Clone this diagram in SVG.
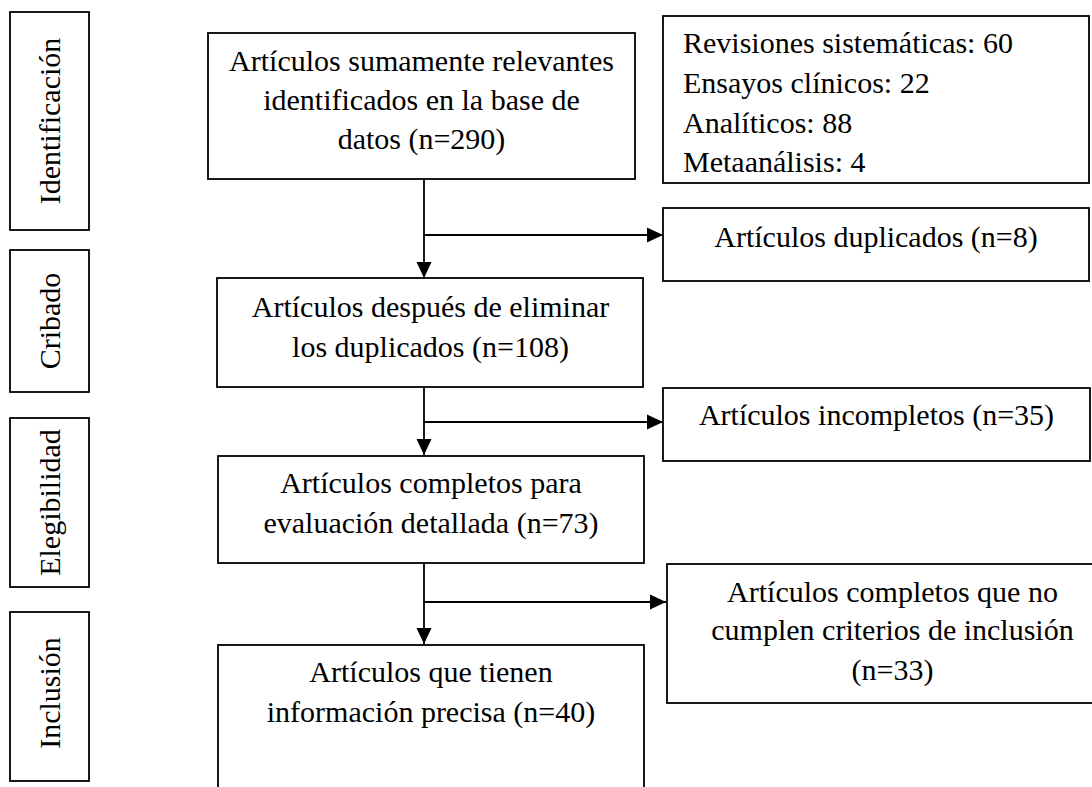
<svg xmlns="http://www.w3.org/2000/svg" width="1092" height="787" viewBox="0 0 1092 787">
<style>
.b{fill:#fff;stroke:#000;stroke-width:1.8}
.t{font-family:"Liberation Serif","Times New Roman",serif;font-size:30px;fill:#000}
.c{text-anchor:middle}
.l{fill:none;stroke:#000;stroke-width:1.8}
</style>
<defs>
<marker id="ah" markerWidth="16" markerHeight="16" refX="16" refY="8" orient="auto" markerUnits="userSpaceOnUse">
<path d="M0,0.5 L16,8 L0,15.5 Z" fill="#000"/>
</marker>
</defs>
<rect width="1092" height="787" fill="#fff"/>
<g id="phase-identificacion">
<rect class="b" x="10" y="12" width="79" height="218"/>
<text class="t c" transform="translate(60,121) rotate(-90)">Identificación</text>
</g>
<g id="phase-cribado">
<rect class="b" x="10" y="250" width="79" height="142"/>
<text class="t c" transform="translate(60,321) rotate(-90)">Cribado</text>
</g>
<g id="phase-elegibilidad">
<rect class="b" x="10" y="418" width="79" height="169"/>
<text class="t c" transform="translate(60,502.5) rotate(-90)">Elegibilidad</text>
</g>
<g id="phase-inclusion">
<rect class="b" x="10" y="612" width="79" height="169"/>
<text class="t c" transform="translate(60,693) rotate(-90)">Inclusión</text>
</g>
<g id="connectors">
<line class="l" x1="424" y1="179" x2="424" y2="278" marker-end="url(#ah)"/>
<line class="l" x1="424" y1="235" x2="663" y2="235" marker-end="url(#ah)"/>
<line class="l" x1="424" y1="387" x2="424" y2="455" marker-end="url(#ah)"/>
<line class="l" x1="424" y1="422" x2="663" y2="422" marker-end="url(#ah)"/>
<line class="l" x1="424" y1="563" x2="424" y2="644" marker-end="url(#ah)"/>
<line class="l" x1="424" y1="602" x2="666" y2="602" marker-end="url(#ah)"/>
</g>
<g id="n-identificados">
<rect class="b" x="208" y="33" width="427" height="146"/>
<text class="t c" x="421.5" y="71">Artículos sumamente relevantes</text>
<text class="t c" x="421.5" y="110">identificados en la base de</text>
<text class="t c" x="421.5" y="149">datos (n=290)</text>
</g>
<g id="n-tipos">
<rect class="b" x="663" y="16" width="426" height="167"/>
<text class="t" x="683" y="53">Revisiones sistemáticas: 60</text>
<text class="t" x="683" y="93">Ensayos clínicos: 22</text>
<text class="t" x="683" y="133">Analíticos: 88</text>
<text class="t" x="683" y="172">Metaanálisis: 4</text>
</g>
<g id="n-duplicados">
<rect class="b" x="663" y="208" width="426" height="73"/>
<text class="t c" x="876" y="247">Artículos duplicados (n=8)</text>
</g>
<g id="n-sin-duplicados">
<rect class="b" x="217" y="278" width="426" height="109"/>
<text class="t c" x="430.5" y="317">Artículos después de eliminar</text>
<text class="t c" x="430.5" y="357">los duplicados (n=108)</text>
</g>
<g id="n-incompletos">
<rect class="b" x="663" y="388" width="427" height="73"/>
<text class="t c" x="876.5" y="425">Artículos incompletos (n=35)</text>
</g>
<g id="n-completos">
<rect class="b" x="218" y="456" width="426" height="107"/>
<text class="t c" x="431" y="493">Artículos completos para</text>
<text class="t c" x="431" y="533">evaluación detallada (n=73)</text>
</g>
<g id="n-no-cumplen">
<rect class="b" x="667" y="564" width="452" height="139"/>
<text class="t c" x="892.5" y="602">Artículos completos que no</text>
<text class="t c" x="892.5" y="640">cumplen criterios de inclusión</text>
<text class="t c" x="892.5" y="680">(n=33)</text>
</g>
<g id="n-incluidos">
<rect class="b" x="218" y="645" width="426" height="170"/>
<text class="t c" x="431" y="682">Artículos que tienen</text>
<text class="t c" x="431" y="722">información precisa (n=40)</text>
</g>
</svg>
